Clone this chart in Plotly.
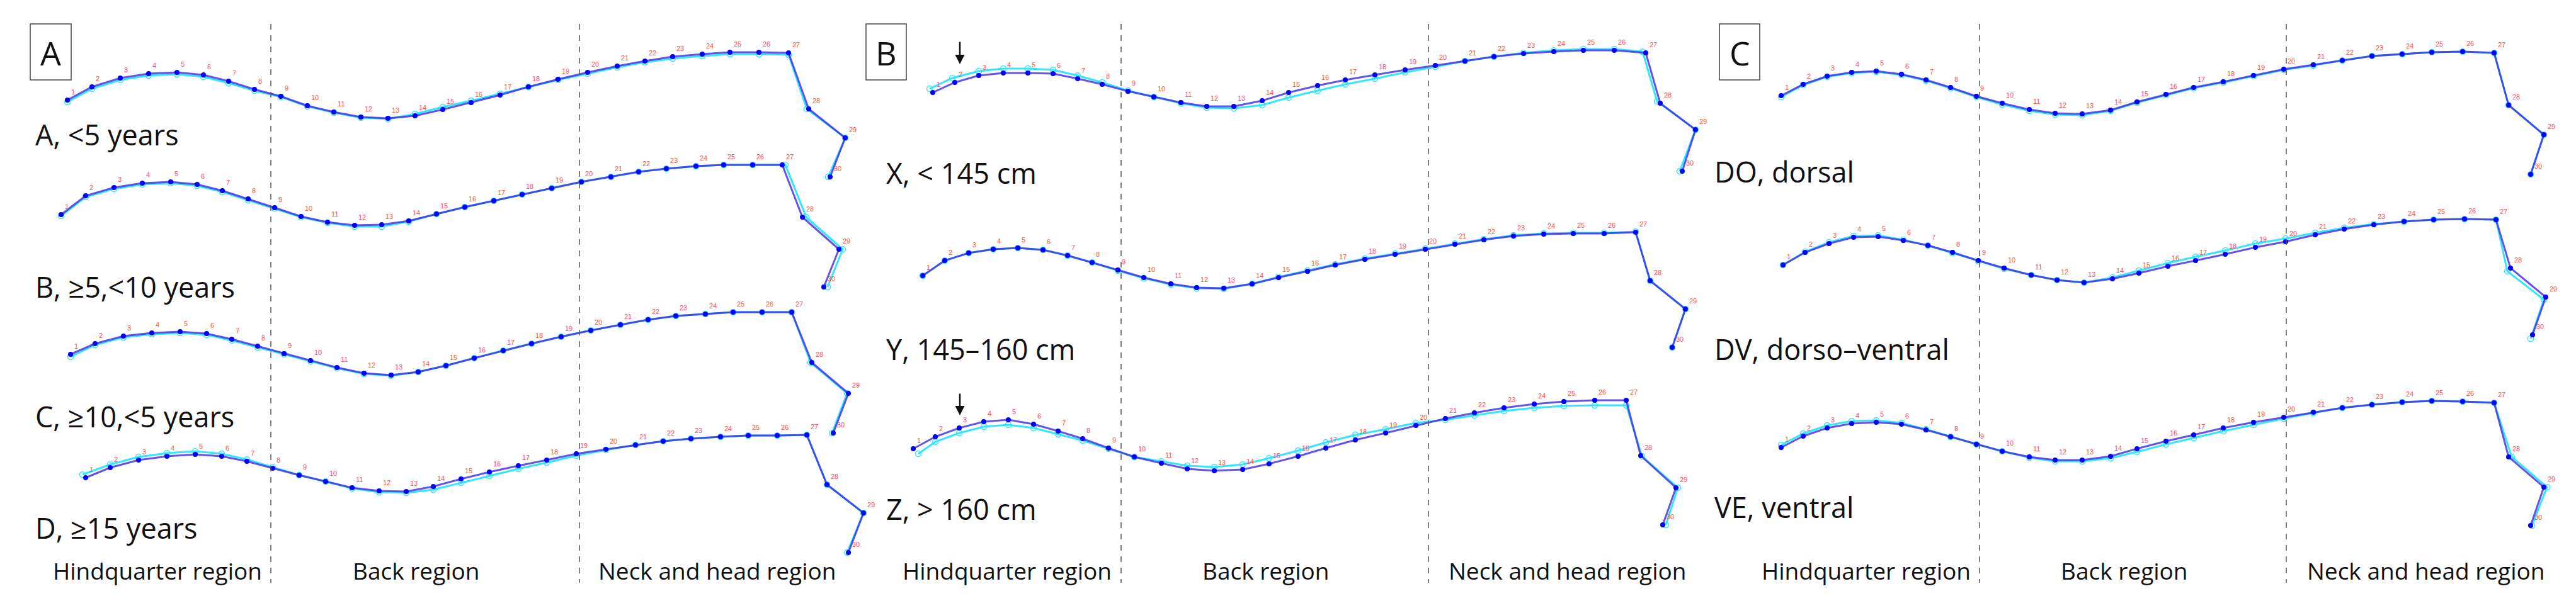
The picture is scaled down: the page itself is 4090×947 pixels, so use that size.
import plotly.graph_objects as go

LANDMARKS = [str(i) for i in range(1, 31)]

# landmark x positions (relative to landmark 1), per panel
X_A = [0,39,84,129,174,216,256,297,339,381,423,466,509,552,596,641,687,732,779,826,873,917,961,1008,1052,1098,1145,1177,1235,1211]
X_BC = [0,35,73,112,151,191,230,269,310,351,394,435,478,523,565,611,655,702,750,798,845,891,938,986,1033,1082,1132,1155,1211,1190]

# mean shape (blue) vertical landmark values, relative to landmark 1 (down = positive)
Y_A1 = [0,-21,-35,-42,-44,-40,-30,-17,-6,9,19,27,29,25,15,4,-8,-21,-33,-44,-54,-62,-69,-73,-76,-76,-75,14,60,122]
Y_A2 = [0,-30,-43,-50,-52,-48,-38,-25,-11,3,12,17,16,10,-1,-12,-22,-32,-42,-52,-60,-68,-73,-77,-79,-79,-79,4,55,115]
Y_A3 = [0,-17,-29,-34,-36,-33,-24,-13,-1,10,21,30,33,28,18,6,-6,-17,-28,-38,-47,-55,-61,-64,-67,-67,-67,13,62,125]
Y_A4 = [0,-16,-28,-34,-37,-34,-26,-15,-4,6,16,21,22,14,2,-9,-19,-28,-38,-45,-52,-58,-62,-65,-67,-67,-68,11,56,119]
Y_BX = [0,-16,-27,-31,-31,-30,-22,-13,-2,7,16,22,22,13,0,-11,-20,-28,-36,-43,-50,-57,-62,-65,-67,-67,-63,17,59,125]
Y_BY = [0,-24,-36,-42,-44,-41,-32,-21,-9,3,13,19,20,13,3,-7,-17,-26,-34,-42,-50,-57,-63,-66,-67,-67,-69,8,53,114]
Y_BZ = [0,-19,-33,-43,-46,-39,-28,-16,-1,13,23,32,35,33,24,12,-1,-14,-25,-37,-48,-57,-65,-71,-75,-77,-77,11,62,121]
Y_CDO = [0,-18,-31,-37,-39,-34,-25,-13,1,12,22,28,29,23,10,-2,-13,-22,-32,-42,-49,-56,-63,-66,-69,-70,-68,15,62,125]
Y_CDV = [0,-20,-34,-44,-45,-39,-31,-20,-7,5,16,24,28,22,13,2,-7,-17,-28,-37,-48,-57,-64,-69,-72,-73,-72,5,51,111]
Y_CVE = [0,-18,-31,-38,-40,-37,-28,-17,-5,6,15,20,20,14,2,-10,-20,-31,-40,-48,-56,-63,-68,-72,-74,-73,-71,15,63,124]

# group shape (cyan) deviation from the mean shape
DY_A1 = [3,3,3,3,3,3,3,2,1,1,1,1,1,-3,-4,-3,-2,0,1,2,2,2,3,3,3,3,3,0,0,0]
DX_A1 = [0,0,0,0,0,0,0,0,0,0,0,0,0,0,0,0,0,0,0,0,0,0,0,0,0,0,0,-3,0,-3]
DY_A2 = [2,2,2,2,2,2,2,2,1,1,1,2,3,1,0,0,0,0,0,0,0,0,0,0,0,0,0,0,0,0]
DX_A2 = [0,0,0,0,0,0,0,0,0,0,0,0,0,0,0,0,0,0,0,0,0,0,0,0,0,0,5,6,6,6]
DY_A3 = [4,2,2,2,2,2,2,2,1,1,1,1,1,0,0,0,0,0,0,0,0,0,0,0,0,0,0,0,0,0]
DX_A3 = [0,0,0,0,0,0,0,0,0,0,0,0,0,0,0,0,0,0,0,0,0,0,0,0,0,0,0,-2,-2,-2]
DY_A4 = [-5,-5,-5,-5,-5,-4,-3,-2,0,0,1,2,2,5,6,6,5,4,3,1,0,0,0,0,0,0,0,0,0,0]
DX_A4 = [-5,0,0,0,0,0,0,0,0,0,0,0,0,0,0,0,0,0,0,0,0,0,0,0,0,0,0,0,0,-2]
DY_BX = [-6,-7,-7,-7,-7,-6,-5,-3,-1,0,1,2,3,7,8,8,7,6,4,2,0,0,-1,-2,-2,-2,-2,-3,0,0]
DX_BX = [-5,-4,0,0,0,0,0,0,0,0,0,0,0,0,0,0,0,0,0,0,0,0,0,0,0,0,-5,-5,0,-4]
DY_BY = [0,0,0,0,0,0,0,0,1,1,1,1,1,0,-1,-1,-1,-1,-1,-1,-1,-1,-1,-1,-1,-1,-1,0,0,0]
DX_BY = [0]*30
DY_BZ = [8,8,8,8,8,6,5,3,1,0,-3,-5,-6,-8,-9,-9,-9,-8,-6,-4,2,4,5,6,7,8,8,1,0,0]
DX_BZ = [8,0,0,0,0,0,0,0,0,0,0,0,0,0,0,0,0,0,0,0,0,0,0,0,0,0,0,2,3,5]
DY_CDO = [2,1,1,1,1,1,1,1,1,2,2,2,2,1,1,1,1,1,1,1,1,0,0,0,0,0,0,0,0,0]
DX_CDO = [0]*30
DY_CDV = [0,-1,-2,-2,-2,-1,0,1,1,1,0,0,0,-2,-4,-5,-6,-6,-6,-5,-3,-2,-1,0,0,0,0,5,4,6]
DX_CDV = [0,0,0,0,0,0,0,0,0,0,0,0,0,0,0,0,0,0,0,0,0,0,0,0,0,0,0,-5,-3,-3]
DY_CVE = [-4,-4,-4,-4,-3,-2,-1,0,0,0,1,2,2,3,5,5,5,5,4,2,1,0,0,0,0,0,0,0,0,0]
DX_CVE = [0,0,0,0,0,0,0,0,0,0,0,0,0,0,0,0,0,0,0,0,0,0,0,0,0,0,0,5,5,2]

PANEL_A_LABELS = ["A, <5 years", "B, ≥5,<10 years", "C, ≥10,<5 years", "D, ≥15 years"]
PANEL_B_LABELS = ["X, < 145 cm", "Y, 145–160 cm", "Z, > 160 cm"]
PANEL_C_LABELS = ["DO, dorsal", "DV, dorso–ventral", "VE, ventral"]
REGIONS = ["Hindquarter region", "Back region", "Neck and head region"]
PANELS = ["A", "B", "C"]

rows = [
    (X_A, Y_A1, DY_A1, DX_A1, 99, 151), (X_A, Y_A2, DY_A2, DX_A2, 89, 333),
    (X_A, Y_A3, DY_A3, DX_A3, 104, 555), (X_A, Y_A4, DY_A4, DX_A4, 128, 751),
    (X_BC, Y_BX, DY_BX, DX_BX, 1473, 139), (X_BC, Y_BY, DY_BY, DX_BY, 1457, 430),
    (X_BC, Y_BZ, DY_BZ, DX_BZ, 1442, 705),
    (X_BC, Y_CDO, DY_CDO, DX_CDO, 2820, 144), (X_BC, Y_CDV, DY_CDV, DX_CDV, 2823, 413),
    (X_BC, Y_CVE, DY_CVE, DX_CVE, 2820, 703),
]

fig = go.Figure()
for xr, yr, dy, dx, ox, oy in rows:
    fig.add_trace(go.Scatter(
        x=[ox + a + d for a, d in zip(xr, dx)], y=[oy + b + d for b, d in zip(yr, dy)],
        mode="lines+markers", line=dict(color="#33e6ff", width=3),
        marker=dict(size=9, color="rgba(0,0,0,0)", line=dict(color="#33e6ff", width=1.5)),
        hoverinfo="skip", showlegend=False))
    fig.add_trace(go.Scatter(
        x=[ox + a for a in xr], y=[oy + b for b in yr],
        mode="lines+markers+text", line=dict(color="rgba(60,40,230,0.8)", width=3),
        marker=dict(size=8, color="#0000ff"),
        text=LANDMARKS, textposition="top right",
        textfont=dict(family="Liberation Sans", size=11, color="#ff5050"),
        hoverinfo="skip", showlegend=False))

shapes = []
annotations = []
dash_x = [(422, 912), (1772, 2260), (3135, 3622)]
region_cx = [(242, 653, 1130), (1591, 2002, 2480), (2955, 3365, 3843)]
box_x = [(40, 105), (1367, 1431), (2722, 2786)]
label_x = [46, 1397, 2712]
label_sets = [(PANEL_A_LABELS, [205, 447, 653, 830]),
              (PANEL_B_LABELS, [266, 546, 800]),
              (PANEL_C_LABELS, [264, 546, 797])]

for p in range(3):
    for dxl in dash_x[p]:
        shapes.append(dict(type="line", xref="x", yref="y", x0=dxl, x1=dxl, y0=30, y1=918,
                           line=dict(color="#555", width=1.5, dash="dash")))
    bx0, bx1 = box_x[p]
    shapes.append(dict(type="rect", xref="x", yref="y", x0=bx0, x1=bx1, y0=30, y1=119,
                       line=dict(color="#444", width=1.5), fillcolor="white"))
    annotations.append(dict(x=(bx0 + bx1) / 2, y=75, xref="x", yref="y", text=PANELS[p],
                            showarrow=False, font=dict(family="Open Sans", size=52, color="#111")))
    labs, ys = label_sets[p]
    for t, yy in zip(labs, ys):
        annotations.append(dict(x=label_x[p], y=yy, xref="x", yref="y", text=t, xanchor="left",
                                showarrow=False, font=dict(family="Open Sans", size=45, color="#111")))
    for t, cx in zip(REGIONS, region_cx[p]):
        annotations.append(dict(x=cx, y=898, xref="x", yref="y", text=t, showarrow=False,
                                font=dict(family="Open Sans", size=37, color="#111")))

for ay in [(57, 94), (616, 652)]:
    annotations.append(dict(x=1516, y=ay[1], ax=1516, ay=ay[0], xref="x", yref="y",
                            axref="x", ayref="y", text="", showarrow=True, arrowhead=2,
                            arrowsize=1.2, arrowwidth=2.5, arrowcolor="#111"))

fig.update_layout(
    width=4090, height=947, margin=dict(l=0, r=0, t=0, b=0),
    paper_bgcolor="white", plot_bgcolor="white",
    xaxis=dict(range=[0, 4090], visible=False, fixedrange=True),
    yaxis=dict(range=[947, 0], visible=False, fixedrange=True),
    shapes=shapes, annotations=annotations)
fig.write_html("out.html")
